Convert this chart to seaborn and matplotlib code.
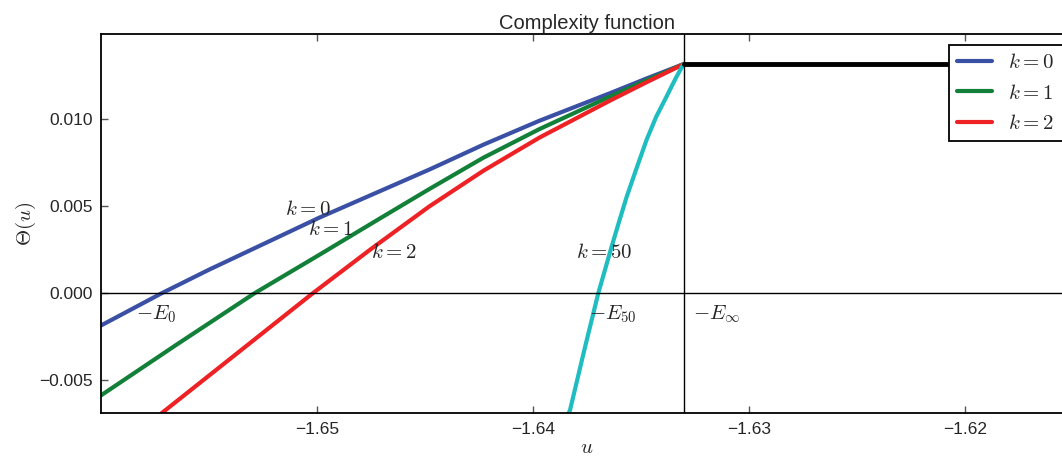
import matplotlib
matplotlib.use("Agg")
import matplotlib.pyplot as plt
import numpy as np
import seaborn as sns

# values
u_k0 = [-1.6600, -1.6572, -1.6550, -1.6499, -1.6448, -1.6423, -1.6397,
        -1.6364, -1.6347, -1.6330]
theta_k0 = [-0.00185, 0.0, 0.00136, 0.00435, 0.00712, 0.00855, 0.00993,
            0.01153, 0.01238, 0.01320]

u_k1 = [-1.6600, -1.6565, -1.6529, -1.6499, -1.6473, -1.6448, -1.6423,
        -1.6397, -1.6364, -1.6347, -1.6330]
theta_k1 = [-0.00587, -0.00295, 0.0, 0.00221, 0.00415, 0.00600, 0.00780,
            0.00945, 0.01134, 0.01228, 0.01320]

u_k2 = [-1.6572, -1.6537, -1.6502, -1.6475, -1.6448, -1.6423, -1.6397,
        -1.6364, -1.6347, -1.6330]
theta_k2 = [-0.00690, -0.00345, 0.0, 0.00255, 0.00500, 0.00705, 0.00896,
            0.01111, 0.01217, 0.01320]

u_k50 = [-1.63836, -1.63829, -1.63800, -1.63759, -1.63720, -1.63698,
         -1.63636, -1.63600, -1.63566, -1.63520, -1.63474, -1.63430,
         -1.63381, -1.63340, -1.63304]
theta_k50 = [-0.00692, -0.00673, -0.00522, -0.00308, -0.00111, 0.0,
             0.00269, 0.00419, 0.00557, 0.00722, 0.00884, 0.01015,
             0.01134, 0.01236, 0.01317]

u_inf = [-1.6330, -1.6150]
theta_inf = [0.01320, 0.01320]
E_inf = -1.633

labels = [
    (r"$k=0$", -1.6515, 0.0045),
    (r"$k=1$", -1.6504, 0.00336),
    (r"$k=2$", -1.6475, 0.00204),
    (r"$k=50$", -1.6380, 0.00202),
    (r"$-E_0$", -1.6584, -0.0015),
    (r"$-E_{50}$", -1.6374, -0.0015),
    (r"$-E_\infty$", -1.6326, -0.0015),
]

sns.set_theme(style="ticks")
plt.rcParams["font.family"] = ["Liberation Sans", "DejaVu Sans"]
plt.rcParams["mathtext.fontset"] = "cm"

fig = plt.figure(figsize=(10.62, 4.58), dpi=100)
ax = fig.add_axes([0.0951, 0.0976, 0.9153, 0.8275])

colors = {"k0": "#3a50a5", "k1": "#138039", "k2": "#ee2124", "k50": "#1fbcc0"}
sns.lineplot(x=u_k0, y=theta_k0, ax=ax, color=colors["k0"], lw=3, label=r"$k=0$")
sns.lineplot(x=u_k1, y=theta_k1, ax=ax, color=colors["k1"], lw=3, label=r"$k=1$")
sns.lineplot(x=u_k2, y=theta_k2, ax=ax, color=colors["k2"], lw=3, label=r"$k=2$")
sns.lineplot(x=u_k50, y=theta_k50, ax=ax, color=colors["k50"], lw=3)
sns.lineplot(x=u_inf, y=theta_inf, ax=ax, color="black", lw=3.5)

ax.axhline(0, color="black", lw=1)
ax.axvline(E_inf, color="black", lw=1)

for txt, x, y in labels:
    ax.text(x, y, txt, fontsize=15)

ax.set_xlim(-1.66, -1.615)
ax.set_ylim(-0.0069, 0.0149)
ax.set_xticks([-1.65, -1.64, -1.63, -1.62])
ax.set_yticks([-0.005, 0.0, 0.005, 0.010])
ax.set_xticklabels([f"{t:.2f}".replace("-", "\u2212") for t in ax.get_xticks()])
ax.set_yticklabels([f"{t:.3f}".replace("-", "\u2212") for t in ax.get_yticks()])
ax.tick_params(direction="in", top=True, right=True, length=5, width=1,
               labelsize=12.5, pad=6, color="#555555")

for sp in ax.spines.values():
    sp.set_color("black")
    sp.set_linewidth(1.3)

ax.set_title("Complexity function", fontsize=14.5, pad=4)
ax.set_xlabel(r"$u$", fontsize=15, labelpad=1)
ax.set_ylabel(r"$\Theta(u)$", fontsize=15, labelpad=1)

handles, labs = ax.get_legend_handles_labels()
leg = ax.legend(handles[:3], labs[:3], loc="upper right", fontsize=15,
                frameon=True, fancybox=False, framealpha=1, edgecolor="black",
                handlelength=1.65, labelspacing=0.55, borderaxespad=0.5)
leg.get_frame().set_linewidth(1.3)

fig.savefig("out.png", dpi=100)
